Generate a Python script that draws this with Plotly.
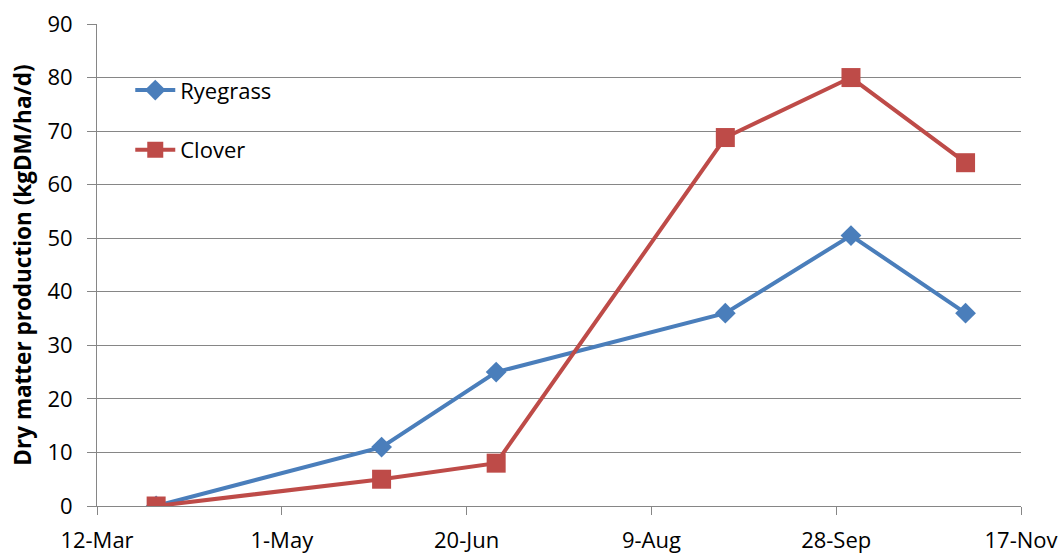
import plotly.graph_objects as go

dates = ["2010-03-28", "2010-05-28", "2010-06-28", "2010-08-29", "2010-10-02", "2010-11-02"]
ryegrass = [0, 11, 25, 36, 50.5, 36]
clover = [0, 5, 8, 68.8, 80, 64.1]

y_title = "Dry matter production (kgDM/ha/d)"

fig = go.Figure()
fig.add_trace(go.Scatter(x=dates, y=ryegrass, name="Ryegrass", mode="lines+markers",
                         line=dict(color="#4A7EBB", width=4),
                         marker=dict(symbol="diamond", size=16, color="#4A7EBB"),
                         legendgroup="a"))
fig.add_trace(go.Scatter(x=dates, y=clover, name="Clover", mode="lines+markers",
                         line=dict(color="#BE4B48", width=4),
                         marker=dict(symbol="square", size=19, color="#BE4B48"),
                         legendgroup="b"))

fig.update_layout(
    width=1063, height=554,
    margin=dict(l=97, r=42, t=24, b=48),
    paper_bgcolor="white", plot_bgcolor="white",
    font=dict(family="Open Sans, sans-serif", size=22, color="#000000"),
    showlegend=True,
    legend=dict(x=0.036, y=0.906, xanchor="left", yanchor="top",
                bgcolor="rgba(0,0,0,0)", tracegroupgap=28,
                font=dict(size=22), itemwidth=40),
    xaxis=dict(type="date", range=["2010-03-12", "2010-11-17"],
               tick0="2010-03-12", dtick=50 * 86400000, tickformat="%-d-%b",
               showgrid=False, showline=True, linecolor="#868686", linewidth=1,
               ticks="outside", ticklen=8, tickcolor="#868686", zeroline=False,
               tickfont=dict(size=22), automargin=False, ticklabelstandoff=7),
    yaxis=dict(range=[0, 90], dtick=10, showgrid=True, gridcolor="#868686", gridwidth=1,
               showline=True, linecolor="#868686", linewidth=1,
               ticks="outside", ticklen=9, tickcolor="#868686", zeroline=False,
               title=dict(text="<b>" + y_title + "</b>", font=dict(size=22.5), standoff=9),
               tickfont=dict(size=22), automargin=False, ticklabelstandoff=10),
)

fig.write_html("out.html")
